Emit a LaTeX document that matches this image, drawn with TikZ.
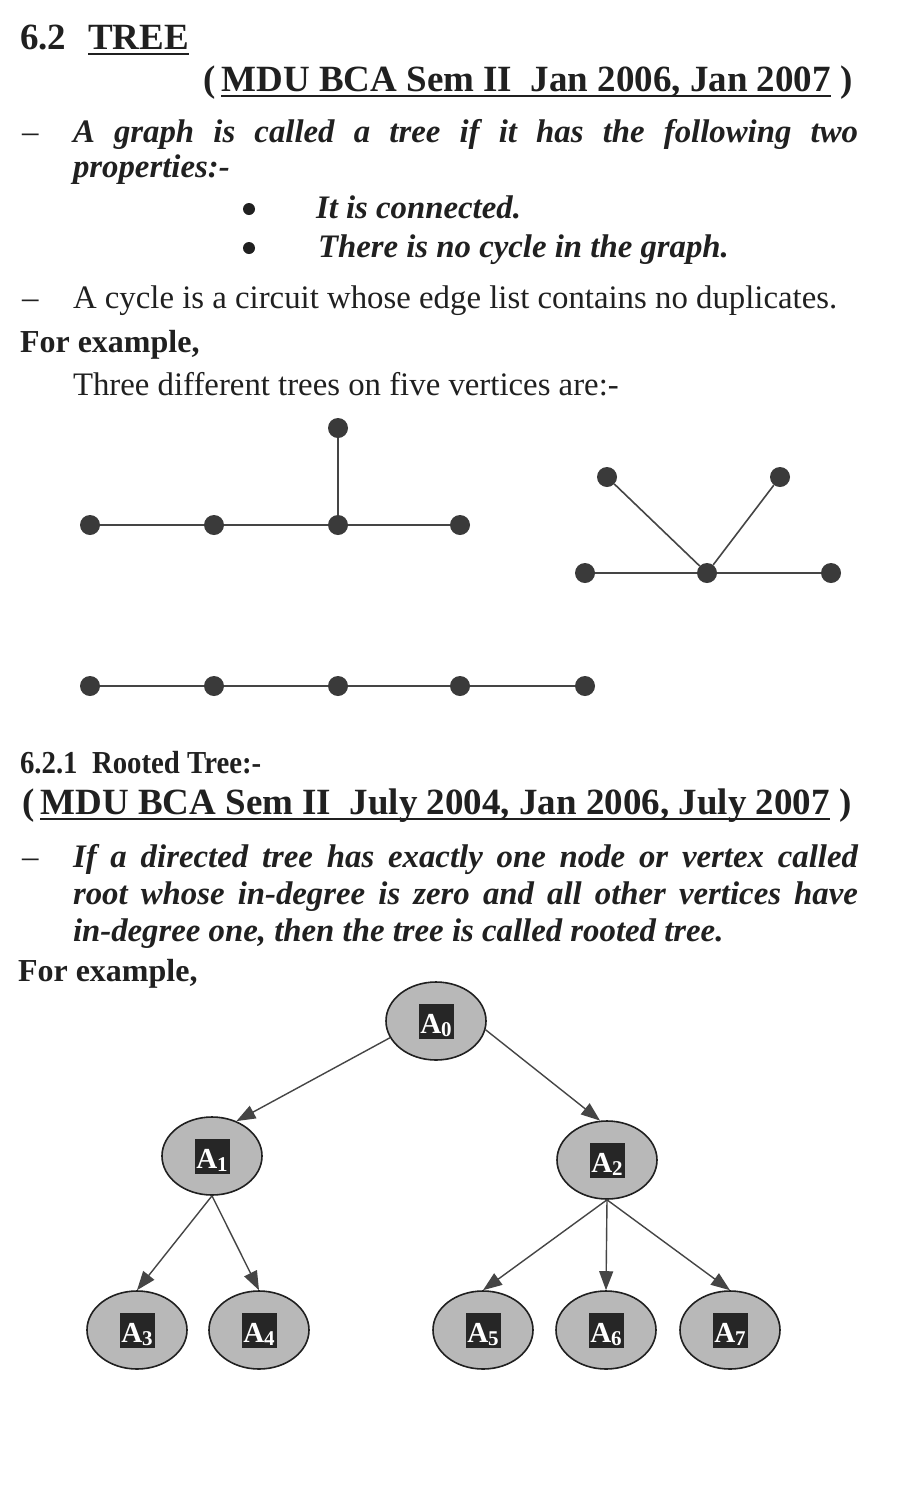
\documentclass[tikz,border=0pt]{standalone}
\usepackage{fontspec}
\setmainfont{Liberation Serif}
\usetikzlibrary{shapes.geometric,arrows.meta}
\definecolor{ink}{HTML}{202020}
\definecolor{vert}{HTML}{3a3a3a}
\definecolor{edgec}{HTML}{454545}
\definecolor{nodefill}{HTML}{B8B8B8}
\definecolor{labelbg}{HTML}{262626}
\newsavebox\ulbox
\newcommand{\myul}[1]{\sbox\ulbox{#1}\rlap{\rule[-5.5pt]{\wd\ulbox}{1.8pt}}\usebox\ulbox}
\newcommand{\nodelbl}[1]{{\setlength\fboxsep{0pt}\colorbox{labelbg}{\makebox[35pt]{\rule[-5pt]{0pt}{35pt}\textcolor{white}{\fontsize{29}{29}\selectfont\bfseries A\raisebox{-3pt}{\fontsize{21}{21}\selectfont #1}}}}}}
\tikzset{
  txt/.style={anchor=base west, inner sep=0pt, outer sep=0pt, text=ink},
  body/.style={txt, font=\fontsize{32.8}{39}\selectfont},
  bodyit/.style={txt, font=\fontsize{32.8}{39}\selectfont\bfseries\itshape},
  boldtxt/.style={txt, font=\fontsize{32}{38}\selectfont\bfseries},
  refline/.style={txt, font=\fontsize{37}{44}\selectfont\bfseries},
  bulc/.style={circle, fill=ink, minimum size=12pt, inner sep=0pt},
  vtx/.style={circle, fill=vert, minimum size=20pt, inner sep=0pt},
  tedge/.style={draw=edgec, line width=1.6pt},
  rnode/.style={ellipse, draw=ink, line width=1.6pt, fill=nodefill, minimum width=100pt, minimum height=78pt, inner sep=0pt},
  arr/.style={draw=edgec, line width=1.4pt, -{Triangle[length=19pt,width=14pt]}}
}
\begin{document}
\begin{tikzpicture}[x=1pt,y=-1pt]
\useasboundingbox[fill=white] (0,0) rectangle (908,1497);

% headings and text, part 1
\node[txt, font=\fontsize{37}{44}\selectfont\bfseries] (h1num) at (20,49) {6.2};
\node[txt, font=\fontsize{37}{44}\selectfont\bfseries] (h1title) at (88,49) {\myul{TREE}};
\node[refline] (ref1) at (203,91) {(\,\myul{MDU BCA Sem II\ \ Jan 2006, Jan 2007}\ )};

\node[body] (d1) at (22,142) {--};
\node[bodyit] (p1a) at (73,142) {\makebox[785pt][s]{A graph is called a tree if it has the following two}};
\node[bodyit] (p1b) at (73,177) {properties:-};
\node[bulc] (b1) at (249,209) {};
\node[bodyit] (p1c) at (316,218) {It is connected.};
\node[bulc] (b2) at (249,248) {};
\node[bodyit] (p1d) at (318,257) {There is no cycle in the graph.};

\node[body] (d2) at (22,308) {--};
\node[body] (p2) at (73,308) {A cycle is a circuit whose edge list contains no duplicates.};
\node[boldtxt] (ex1) at (20,352) {For example,};
\node[body] (p3) at (73,395) {Three different trees on five vertices are:-};

% tree 1
\node[vtx] (t1a) at (90,525) {};
\node[vtx] (t1b) at (214,525) {};
\node[vtx] (t1c) at (338,525) {};
\node[vtx] (t1d) at (460,525) {};
\node[vtx] (t1e) at (338,428) {};
\draw[tedge] (t1a) -- (t1b) -- (t1c) -- (t1d);
\draw[tedge] (t1c) -- (t1e);

% tree 2
\node[vtx] (t2a) at (607,477) {};
\node[vtx] (t2b) at (780,477) {};
\node[vtx] (t2c) at (585,573) {};
\node[vtx] (t2d) at (707,573) {};
\node[vtx] (t2e) at (831,573) {};
\draw[tedge] (t2c) -- (t2d) -- (t2e);
\draw[tedge] (t2a) -- (t2d) -- (t2b);

% tree 3
\node[vtx] (t3a) at (90,686) {};
\node[vtx] (t3b) at (214,686) {};
\node[vtx] (t3c) at (338,686) {};
\node[vtx] (t3d) at (460,686) {};
\node[vtx] (t3e) at (585,686) {};
\draw[tedge] (t3a) -- (t3b) -- (t3c) -- (t3d) -- (t3e);

% part 2
\node[txt, font=\fontsize{32}{38}\selectfont\bfseries] (h2) at (20,773) {\scalebox{0.9}[1]{6.2.1\ \ Rooted Tree:-}};
\node[refline] (ref2) at (22,814) {(\,\myul{MDU BCA Sem II\ \ July 2004, Jan 2006, July 2007}\ )};
\node[body] (d3) at (22,867) {--};
\node[bodyit] (q1) at (73,867) {\makebox[785pt][s]{If a directed tree has exactly one node or vertex called}};
\node[bodyit] (q2) at (73,904) {\makebox[785pt][s]{root whose in-degree is zero and all other vertices have}};
\node[bodyit] (q3) at (73,941) {in-degree one, then the tree is called rooted tree.};
\node[boldtxt] (ex2) at (18,981) {For example,};

% rooted tree
\node[rnode] (A0) at (436,1021) {\nodelbl{0}};
\node[rnode] (A1) at (212,1156) {\nodelbl{1}};
\node[rnode] (A2) at (607,1160) {\nodelbl{2}};
\node[rnode] (A3) at (137,1330) {\nodelbl{3}};
\node[rnode] (A4) at (259,1330) {\nodelbl{4}};
\node[rnode] (A5) at (483,1330) {\nodelbl{5}};
\node[rnode] (A6) at (606,1330) {\nodelbl{6}};
\node[rnode] (A7) at (730,1330) {\nodelbl{7}};
\draw[arr] (A0.200) -- (A1.55);
\draw[arr] (A0.350) -- (A2.100);
\draw[arr] (A1.south) -- (A3.north);
\draw[arr] (A1.south) -- (A4.north);
\draw[arr] (A2.south) -- (A5.north);
\draw[arr] (A2.south) -- (A6.north);
\draw[arr] (A2.south) -- (A7.north);
\end{tikzpicture}
\end{document}
